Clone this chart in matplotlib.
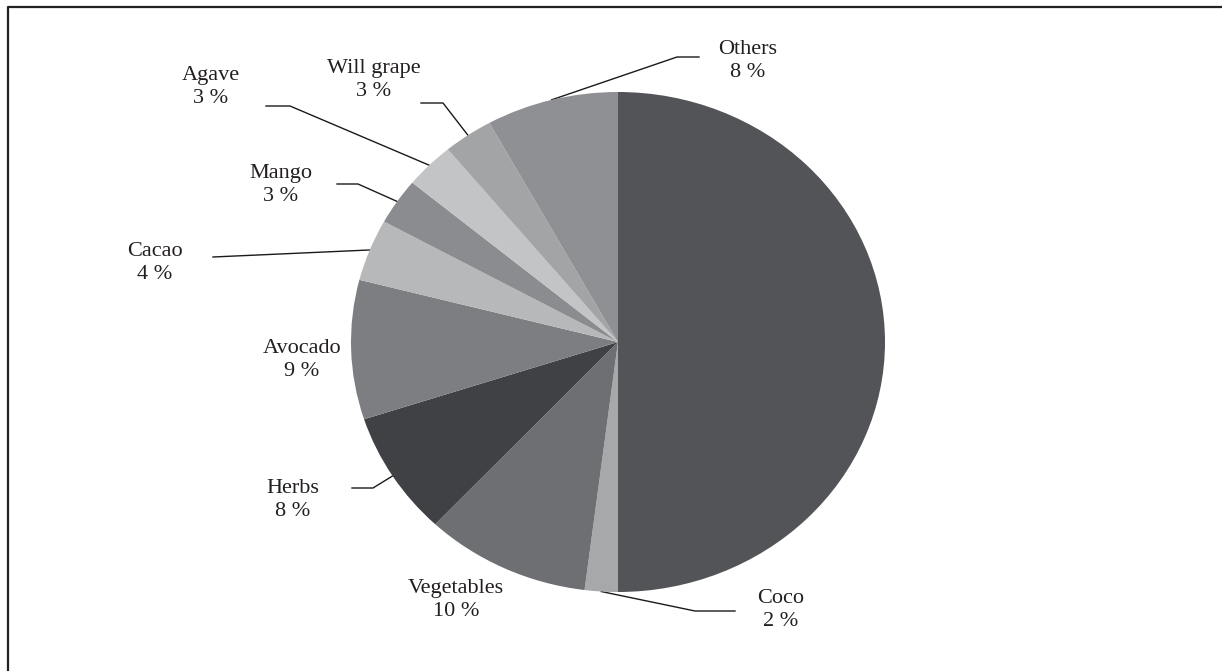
import numpy as np
import matplotlib
matplotlib.use("Agg")
import matplotlib.pyplot as plt

# data
labels = ["Coffee", "Coco", "Vegetables", "Herbs", "Avocado",
          "Cacao", "Mango", "Agave", "Will grape", "Others"]
shares = [50, 2, 10, 8, 9, 4, 3, 3, 3, 8]
colors = ["#535458", "#a7a8aa", "#6e6f72", "#404144", "#7d7e81",
          "#b7b8ba", "#8b8c8f", "#c3c4c6", "#a3a4a6", "#8f9093"]

# label block centres (pixels, y down) and leader elbows
label_pos = {
    "Coffee": (735, 336), "Coco": (781, 610), "Vegetables": (456, 600),
    "Herbs": (293, 500), "Avocado": (302, 360), "Cacao": (155, 263),
    "Mango": (281, 185), "Agave": (211, 87), "Will grape": (374, 80),
    "Others": (748, 61),
}
leaders = {
    "Coco": [(735, 611), (695, 611)],
    "Herbs": [(352, 488), (373, 488)],
    "Cacao": [(213, 257)],
    "Mango": [(337, 184), (358, 184)],
    "Agave": [(266, 106), (290, 106)],
    "Will grape": [(421, 103), (443, 103)],
    "Others": [(699, 57), (677, 57)],
}

W, H = 1222, 671
fig = plt.figure(figsize=(W / 100, H / 100), dpi=100)

# overlay in pixel coordinates
ov = fig.add_axes([0, 0, 1, 1])
ov.set_xlim(0, W)
ov.set_ylim(H, 0)
ov.axis("off")

# pie box (slightly wider than tall, as in the reference)
cx, cy, rx, ry = 618, 342, 267, 250
pax = fig.add_axes([(cx - rx) / W, (H - cy - ry) / H, 2 * rx / W, 2 * ry / H])
wedges, _ = pax.pie(shares, colors=colors, startangle=90, counterclock=False,
                    wedgeprops=dict(linewidth=0))
pax.set_aspect("auto")
pax.set_xlim(-1, 1)
pax.set_ylim(-1, 1)

font = dict(family=["Liberation Serif", "DejaVu Serif"], fontsize=16)

for name, val, w in zip(labels, shares, wedges):
    tx, ty = label_pos[name]
    col = "#f2f2f2" if name == "Coffee" else "#231f20"
    ov.text(tx, ty, f"{name}\n{val} %", ha="center", va="center",
            multialignment="center", linespacing=1.25, color=col, **font)
    if name in leaders:
        ang = np.deg2rad((w.theta1 + w.theta2) / 2)
        ex, ey = cx + rx * np.cos(ang), cy - ry * np.sin(ang)
        pts = leaders[name] + [(ex, ey)]
        ov.plot([p[0] for p in pts], [p[1] for p in pts],
                color="#1a1a1a", lw=1.0, zorder=5)

# frame: top and left rules only
ov.plot([8, 8, W], [H, 6.5, 6.5], color="#222222", lw=1.6, zorder=6)

fig.savefig("out.png", dpi=100)
